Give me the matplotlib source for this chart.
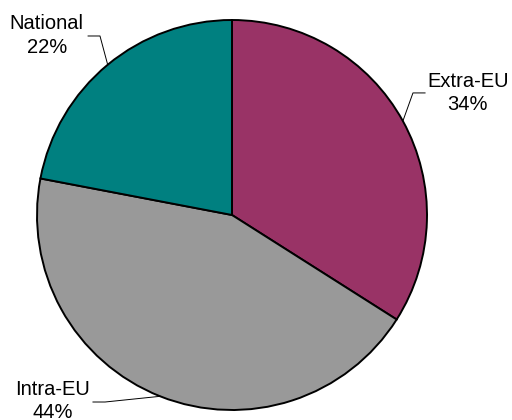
import numpy as np
import matplotlib.pyplot as plt

plt.rcParams['font.family'] = ['Liberation Sans', 'DejaVu Sans']

# data
labels = ["Extra-EU", "Intra-EU", "National"]
shares = [34, 44, 22]
colors = ["#993366", "#999999", "#008080"]

# label layout (data coords, pie radius = 1)
text_pos = [(1.21, 0.625), (-0.92, -0.955), (-0.95, 0.92)]
elbow_pos = [(0.928, 0.626), (-0.651, -0.959), (-0.677, 0.918)]
end_pos = [(0.99, 0.626), (-0.713, -0.959), (-0.738, 0.918)]

fig = plt.figure(figsize=(5.12, 4.2), dpi=100)
# pie centre at (232, 215) px, radius 195 px
ax = fig.add_axes([37 / 512, (420 - 215 - 195) / 420, 390 / 512, 390 / 420])

wedges, _ = ax.pie(shares, colors=colors, startangle=90, counterclock=False,
                   radius=1, wedgeprops=dict(edgecolor="black", linewidth=1.4))

for w, lab, val, tp, el, en in zip(wedges, labels, shares, text_pos, elbow_pos, end_pos):
    mid = np.deg2rad((w.theta1 + w.theta2) / 2)
    ex, ey = np.cos(mid), np.sin(mid)
    ax.plot([ex, el[0], en[0]], [ey, el[1], en[1]], color="black", lw=0.7,
            clip_on=False)
    ax.text(tp[0], tp[1], f"{lab}\n{val}%", ha="center", va="center",
            fontsize=14.5, linespacing=1.3, clip_on=False)

ax.set_xlim(-1, 1)
ax.set_ylim(-1, 1)
ax.set_aspect("equal")
ax.axis("off")

fig.savefig("out.png", dpi=100)
